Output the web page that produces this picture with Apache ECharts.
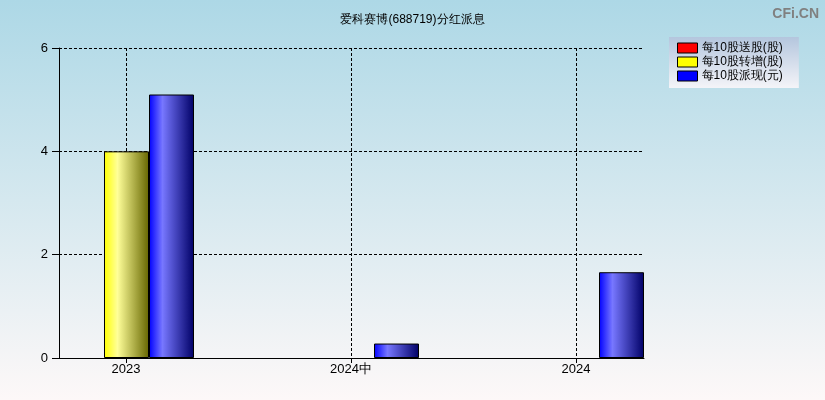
<!DOCTYPE html>
<html><head><meta charset="utf-8">
<script src="https://cdn.jsdelivr.net/npm/echarts@6/dist/echarts.min.js"></script>
<style>html,body{margin:0;padding:0;}#c{width:825px;height:400px;}</style>
</head><body><div id="c"></div>
<script>
const categories = ['2023', '2024中', '2024'];
const seriesNames = ['每10股送股(股)', '每10股转增(股)', '每10股派现(元)'];
const songGu = [0, 0, 0];
const zhuanZeng = [4, 0, 0];
const paiXian = [5.1, 0.28, 1.66];
const yTicks = [0, 2, 4, 6];

const chart = echarts.init(document.getElementById('c'));
const G = echarts.graphic.LinearGradient;
function grad(c0, c1, c2) {
  return new G(0, 0, 1, 0, [
    {offset: 0, color: c0}, {offset: 0.3, color: c1}, {offset: 1, color: c2}
  ]);
}
const fills = [
  grad('#ff0000', '#ff8080', '#660000'),
  grad('#ffff00', '#ffff99', '#666600'),
  grad('#0000ff', '#7777ff', '#000066')
];
const legendColors = ['#ff0000', '#ffff00', '#0000ff'];
const dataSets = [songGu, zhuanZeng, paiXian];
const font = 'Liberation Sans, Arial, sans-serif';
const dash = {color: '#000', type: [3, 2], width: 1};

chart.setOption({
  animation: false,
  backgroundColor: new G(0, 0, 0, 1, [
    {offset: 0, color: '#add8e6'}, {offset: 1, color: '#fdf8f8'}
  ]),
  title: [
    {text: '爱科赛博(688719)分红派息', left: 'center', top: 9,
     textStyle: {fontSize: 12, fontWeight: 'normal', color: '#000', fontFamily: font}},
    {text: 'CFi.CN', right: 1, top: 2,
     textStyle: {fontSize: 14, fontWeight: 'bold', color: '#808080', fontFamily: font}}
  ],
  legend: {
    orient: 'vertical', left: 669, top: 37,
    padding: [5, 16, 6, 8], itemGap: 2, itemWidth: 20, itemHeight: 10,
    backgroundColor: new G(0, 0, 0, 1, [
      {offset: 0, color: '#b4c6de'}, {offset: 1, color: '#f4f4f8'}
    ]),
    textStyle: {fontSize: 12, color: '#000', fontFamily: font, padding: [0, 0, 0, -1]},
    data: seriesNames.map((n, i) => ({name: n, icon: 'rect',
      itemStyle: {color: legendColors[i], borderColor: '#000', borderWidth: 1}}))
  },
  grid: [
    {left: 59, right: 181, top: 48, bottom: 42},
    {left: 126, right: 249, top: 48, bottom: 42}
  ],
  xAxis: [
    {type: 'value', gridIndex: 0, min: -0.3, max: 2.3,
     axisLine: {show: true, onZero: false, lineStyle: {color: '#000', width: 1}},
     axisTick: {show: false}, axisLabel: {show: false}, splitLine: {show: false}},
    {type: 'value', gridIndex: 1, min: 0, max: 2, interval: 1,
     axisLine: {show: false, onZero: false},
     axisTick: {show: true, length: 5, lineStyle: {color: '#000'}},
     axisLabel: {show: true, margin: 5, fontSize: 13, color: '#000', fontFamily: font,
       formatter: v => categories[Math.round(v)]},
     splitLine: {show: true, showMinLine: true, showMaxLine: true, lineStyle: dash}}
  ],
  yAxis: [
    {type: 'value', gridIndex: 0, min: yTicks[0], max: yTicks[yTicks.length - 1], interval: 2,
     axisLine: {show: true, onZero: false, lineStyle: {color: '#000', width: 1}},
     axisTick: {show: true, length: 7, lineStyle: {color: '#000'}},
     axisLabel: {margin: 11, fontSize: 13, color: '#000', fontFamily: font},
     splitLine: {show: true, lineStyle: dash}},
    {type: 'value', gridIndex: 1, min: 0, max: 1, show: false,
     axisLine: {show: false, onZero: false},
     axisTick: {show: false}, axisLabel: {show: false},
     splitLine: {show: false}}
  ],
  series: seriesNames.map((n, i) => ({
    name: n, type: 'bar', xAxisIndex: 0, yAxisIndex: 0,
    barWidth: 45, barGap: '0%',
    itemStyle: {color: fills[i], borderColor: '#000', borderWidth: 1},
    data: dataSets[i].map((v, k) => [k, v === 0 ? null : v])
  }))
});
</script></body></html>
